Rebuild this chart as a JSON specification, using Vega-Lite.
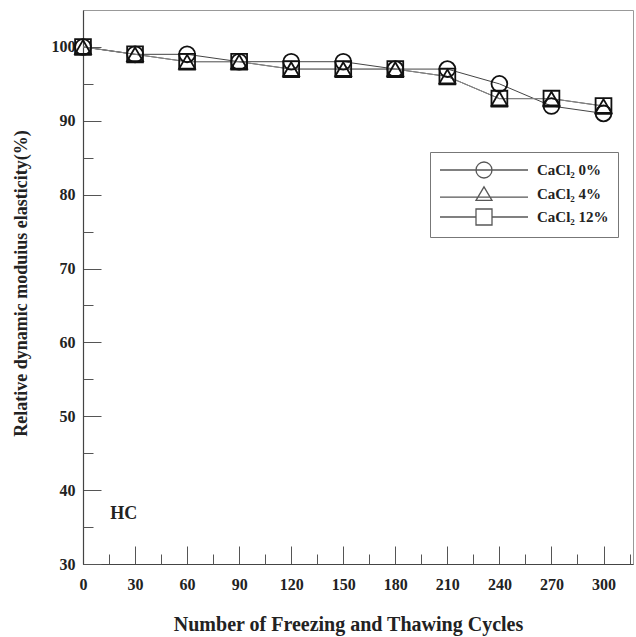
{
  "$schema": "https://vega.github.io/schema/vega-lite/v6.json",
  "width": 550,
  "height": 554,
  "autosize": "none",
  "padding": {"left": 83, "top": 10, "right": 3, "bottom": 73},
  "background": "white",
  "config": {
    "view": {"stroke": "#999", "strokeWidth": 1},
    "font": "Liberation Serif",
    "axis": {
      "grid": false,
      "domainColor": "#444",
      "domainWidth": 1.2,
      "tickColor": "#555",
      "tickWidth": 1,
      "labelFont": "Liberation Serif",
      "labelFontWeight": "bold",
      "labelFontSize": 16,
      "labelColor": "#222",
      "titleFont": "Liberation Serif",
      "titleFontWeight": "bold",
      "titleFontSize": 18,
      "titleColor": "#222"
    }
  },
  "resolve": {
    "axis": {"x": "independent", "y": "independent"},
    "scale": {"shape": "independent"}
  },
  "datasets": {
    "main": [
      {"cycles": 0, "value": 100, "series": "CaCl₂ 0%"},
      {"cycles": 30, "value": 99, "series": "CaCl₂ 0%"},
      {"cycles": 60, "value": 99, "series": "CaCl₂ 0%"},
      {"cycles": 90, "value": 98, "series": "CaCl₂ 0%"},
      {"cycles": 120, "value": 98, "series": "CaCl₂ 0%"},
      {"cycles": 150, "value": 98, "series": "CaCl₂ 0%"},
      {"cycles": 180, "value": 97, "series": "CaCl₂ 0%"},
      {"cycles": 210, "value": 97, "series": "CaCl₂ 0%"},
      {"cycles": 240, "value": 95, "series": "CaCl₂ 0%"},
      {"cycles": 270, "value": 92, "series": "CaCl₂ 0%"},
      {"cycles": 300, "value": 91, "series": "CaCl₂ 0%"},
      {"cycles": 0, "value": 100, "series": "CaCl₂ 4%"},
      {"cycles": 30, "value": 99, "series": "CaCl₂ 4%"},
      {"cycles": 60, "value": 98, "series": "CaCl₂ 4%"},
      {"cycles": 90, "value": 98, "series": "CaCl₂ 4%"},
      {"cycles": 120, "value": 97, "series": "CaCl₂ 4%"},
      {"cycles": 150, "value": 97, "series": "CaCl₂ 4%"},
      {"cycles": 180, "value": 97, "series": "CaCl₂ 4%"},
      {"cycles": 210, "value": 96, "series": "CaCl₂ 4%"},
      {"cycles": 240, "value": 93, "series": "CaCl₂ 4%"},
      {"cycles": 270, "value": 93, "series": "CaCl₂ 4%"},
      {"cycles": 300, "value": 92, "series": "CaCl₂ 4%"},
      {"cycles": 0, "value": 100, "series": "CaCl₂ 12%"},
      {"cycles": 30, "value": 99, "series": "CaCl₂ 12%"},
      {"cycles": 60, "value": 98, "series": "CaCl₂ 12%"},
      {"cycles": 90, "value": 98, "series": "CaCl₂ 12%"},
      {"cycles": 120, "value": 97, "series": "CaCl₂ 12%"},
      {"cycles": 150, "value": 97, "series": "CaCl₂ 12%"},
      {"cycles": 180, "value": 97, "series": "CaCl₂ 12%"},
      {"cycles": 210, "value": 96, "series": "CaCl₂ 12%"},
      {"cycles": 240, "value": 93, "series": "CaCl₂ 12%"},
      {"cycles": 270, "value": 93, "series": "CaCl₂ 12%"},
      {"cycles": 300, "value": 92, "series": "CaCl₂ 12%"}
    ]
  },
  "layer": [
    {
      "data": {"name": "main"},
      "transform": [{"filter": "datum.series === 'CaCl₂ 0%'"}],
      "mark": {"type": "line", "strokeWidth": 1, "color": "#444"},
      "encoding": {
        "x": {"field": "cycles", "type": "quantitative",
          "scale": {"domain": [0, 317], "nice": false, "zero": false},
          "axis": {
            "orient": "bottom",
            "title": "Number of Freezing and Thawing Cycles",
            "titleFontSize": 20,
            "titleX": 265,
            "titleY": 66,
            "titleBaseline": "alphabetic",
            "values": [0, 30, 60, 90, 120, 150, 180, 210, 240, 270, 300],
            "tickSize": -18,
            "labelPadding": 30,
            "labelFlush": false
          }
        },
        "y": {"field": "value", "type": "quantitative",
          "scale": {"domain": [30, 105], "nice": false, "zero": false},
          "axis": {
            "orient": "left",
            "title": "Relative dynamic moduius elasticity(%)",
            "titleX": -62,
            "titleY": 273,
            "titleBaseline": "middle",
            "values": [30, 40, 50, 60, 70, 80, 90, 100],
            "tickSize": -18,
            "labelPadding": 26,
            "labelFlush": false
          }
        }
      }
    },
    {
      "data": {"name": "main"},
      "transform": [{"filter": "datum.series === 'CaCl₂ 4%'"}],
      "mark": {"type": "line", "strokeWidth": 1, "color": "#444"},
      "encoding": {
        "x": {"field": "cycles", "type": "quantitative", "axis": null},
        "y": {"field": "value", "type": "quantitative", "axis": null}
      }
    },
    {
      "data": {"name": "main"},
      "transform": [{"filter": "datum.series === 'CaCl₂ 12%'"}],
      "mark": {"type": "line", "strokeWidth": 1, "color": "#888"},
      "encoding": {
        "x": {"field": "cycles", "type": "quantitative", "axis": null},
        "y": {"field": "value", "type": "quantitative", "axis": null}
      }
    },
    {
      "data": {"name": "main"},
      "mark": {"type": "point", "filled": false, "strokeWidth": 1.8, "color": "#111", "opacity": 1, "size": 250},
      "encoding": {
        "x": {"field": "cycles", "type": "quantitative",
          "axis": {
            "orient": "bottom",
            "title": null,
            "values": [15, 45, 75, 105, 135, 165, 195, 225, 255, 285, 315],
            "labels": false,
            "domain": false,
            "tickSize": -10
          }
        },
        "y": {"field": "value", "type": "quantitative",
          "axis": {
            "orient": "left",
            "title": null,
            "values": [35, 45, 55, 65, 75, 85, 95],
            "labels": false,
            "domain": false,
            "tickSize": -10
          }
        },
        "shape": {"field": "series", "type": "nominal",
          "scale": {"domain": ["CaCl₂ 0%", "CaCl₂ 4%", "CaCl₂ 12%"], "range": ["circle", "triangle-up", "square"]},
          "legend": null
        }
      }
    },
    {
      "data": {"name": "main"},
      "mark": {"type": "point", "filled": false, "strokeWidth": 1.3, "color": "#111", "size": 0},
      "encoding": {
        "x": {"field": "cycles", "type": "quantitative", "axis": null},
        "y": {"field": "value", "type": "quantitative", "axis": null},
        "shape": {"field": "series", "type": "nominal",
          "scale": {"domain": ["CaCl₂ 0%", "CaCl₂ 4%", "CaCl₂ 12%"],
            "range": ["M-5.5,0H5.5M1,0A1,1,0,1,1,-1,0A1,1,0,1,1,1,0", "M-5.5,0.4H5.5M0,-0.9L1,0.8L-1,0.8Z", "M-5.5,0H-1M1,0H5.5M-1,-1H1V1H-1Z"]},
          "legend": {
            "title": null,
            "orient": "none",
            "legendX": 347,
            "legendY": 142,
            "padding": 9,
            "strokeColor": "#777",
            "fillColor": "white",
            "symbolSize": 256,
            "symbolStrokeColor": "#111",
            "symbolStrokeWidth": 1.3,
            "symbolFillColor": "transparent",
            "symbolOffset": 36,
            "labelOffset": 44,
            "rowPadding": 3,
            "labelFont": "Liberation Serif",
            "labelFontWeight": "bold",
            "labelFontSize": 15,
            "labelColor": "#222"
          }
        }
      }
    },
    {
      "data": {"values": [{"x": 23.5, "y": 36.8, "label": "HC"}]},
      "mark": {"type": "text", "font": "Liberation Serif", "fontWeight": "bold", "fontSize": 18, "color": "#222", "align": "center", "baseline": "middle"},
      "encoding": {
        "x": {"field": "x", "type": "quantitative", "axis": null},
        "y": {"field": "y", "type": "quantitative", "axis": null},
        "text": {"field": "label"}
      }
    }
  ]
}
